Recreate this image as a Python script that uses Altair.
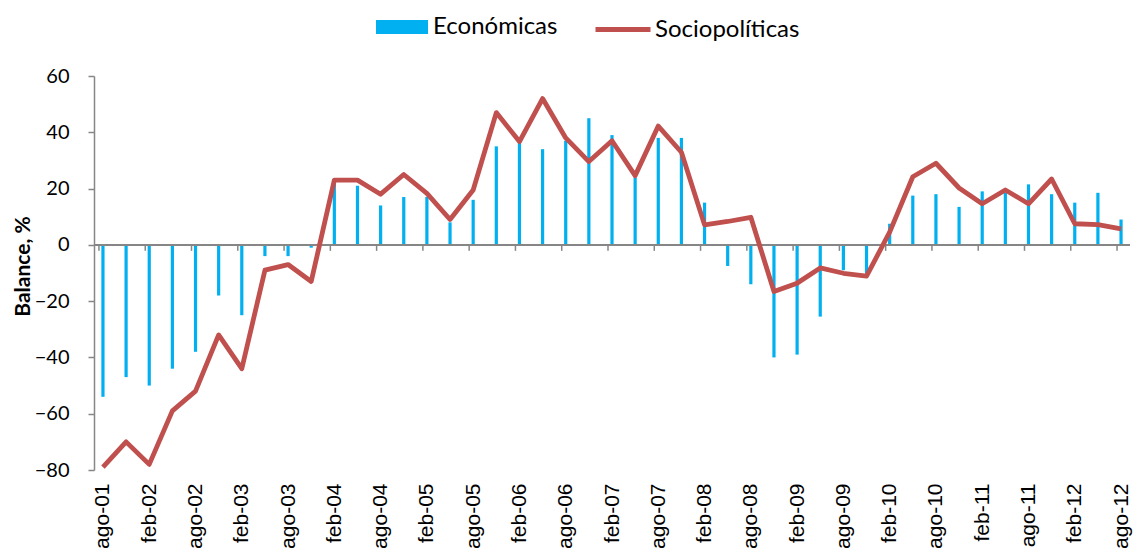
import altair as alt
import pandas as pd

tick_labels = ["ago-01", "feb-02", "ago-02", "feb-03", "ago-03", "feb-04", "ago-04",
               "feb-05", "ago-05", "feb-06", "ago-06", "feb-07", "ago-07", "feb-08",
               "ago-08", "feb-09", "ago-09", "feb-10", "ago-10", "feb-11", "ago-11",
               "feb-12", "ago-12"]

economicas = [-54, -47, -50, -44, -38, -18, -25, -4, -4, -1,
              22, 21, 14, 17, 17, 8, 16, 35, 36.5, 34,
              37, 45, 39, 24, 38, 38, 15, -7.5, -14, -40,
              -39, -25.5, -9, -10, 7.5, 17.5, 18, 13.5, 19, 18.5,
              21.5, 18, 15, 18.5, 9]

sociopoliticas = [-79, -70, -78, -59, -52, -32, -44, -9, -7, -13,
                  23, 23, 18, 25, 18.3, 9, 19.5, 47, 36.7, 52,
                  38, 29.6, 37, 24.6, 42.2, 32.9, 7.1, 8.3, 9.8, -16.6,
                  -13.6, -8.2, -10.1, -11.1, 4.5, 24.2, 29, 20.2, 14.6, 19.5,
                  14.6, 23.4, 7.5, 7.2, 5.7]

n = len(economicas)
df = pd.DataFrame({
    "i": list(range(n)),
    "eco": economicas,
    "soc": sociopoliticas,
    "s1": ["Económicas"] * n,
    "s2": ["Sociopolíticas"] * n,
})
tick_idx = list(range(0, n, 2))
ticks_df = pd.DataFrame({"i": tick_idx})

W, H = 1036, 394
GRAY = "#868686"
xscale = alt.Scale(domain=[-0.171, 44.171], nice=False, zero=False)
yscale = alt.Scale(domain=[-80, 60], nice=False)

label_expr = "[" + ",".join("'%s'" % t for t in tick_labels) + "][round(datum.value/2)]"

xaxis = alt.Axis(values=tick_idx, labelExpr=label_expr, labelAngle=-90, domain=False,
                 ticks=False, labelPadding=13, labelFontSize=21, labelFont="Liberation Sans",
                 labelColor="black", grid=False, title=None, labelOverlap=False,
                 labelFlush=False, labelBound=False)
yaxis = alt.Axis(values=[-80, -60, -40, -20, 0, 20, 40, 60], grid=False, domainColor=GRAY,
                 domainWidth=1.5, tickColor=GRAY, tickWidth=1.5, tickSize=6, labelPadding=19,
                 labelFontSize=20, labelFont="Lato", labelColor="black",
                 title="Balance, %", titleFont="Lato", titleFontSize=21, titleFontWeight="bold",
                 titleColor="black", titleX=-71, titleY=190, titleBaseline="middle")

base = alt.Chart(df)

bars = base.mark_bar(orient="vertical", size=3.2).encode(
    x=alt.X("i:Q", scale=xscale, axis=xaxis),
    y=alt.Y("eco:Q", scale=yscale, axis=yaxis, stack=None),
    color=alt.Color("s1:N", scale=alt.Scale(range=["#00B0F0"]),
                    legend=alt.Legend(orient="none", legendX=282, legendY=-75, title=None,
                                      padding=0, symbolType="M-1,-0.27H1V0.27H-1Z",
                                      symbolSize=2704, symbolStrokeWidth=0, symbolOpacity=1,
                                      labelFontSize=24, labelFont="Lato", labelColor="black",
                                      labelOffset=5, labelLimit=0)),
)

zero_rule = alt.Chart(ticks_df).mark_rule(color=GRAY, strokeWidth=1.5).encode(
    y=alt.datum(0, scale=yscale),
    x=alt.value(0),
    x2=alt.value(W),
)

tick_marks = alt.Chart(ticks_df).mark_rule(color=GRAY, strokeWidth=1.5, y2Offset=6,
                                           xOffset=-4, x2Offset=-4).encode(
    x=alt.X("i:Q", scale=xscale),
    y=alt.datum(0, scale=yscale),
    y2=alt.datum(0),
)

line = base.mark_line(strokeWidth=4.8, strokeJoin="round").encode(
    x=alt.X("i:Q", scale=xscale),
    y=alt.Y("soc:Q", scale=yscale),
    stroke=alt.Stroke("s2:N", scale=alt.Scale(range=["#C0504D"]),
                      legend=alt.Legend(orient="none", legendX=499, legendY=-76.5, title=None,
                                        padding=0, symbolType="stroke", symbolSize=3025,
                                        symbolStrokeWidth=5, labelFontSize=24, labelFont="Lato",
                                        labelColor="black", labelOffset=2, labelLimit=0)),
)

chart = alt.layer(bars, zero_rule, tick_marks, line).properties(
    width=W, height=H, autosize="none",
    padding={"left": 86, "top": 68, "right": 4, "bottom": 80},
).configure_view(stroke=None)

chart.save("out.html", embed_options={"renderer": "svg", "actions": False})
